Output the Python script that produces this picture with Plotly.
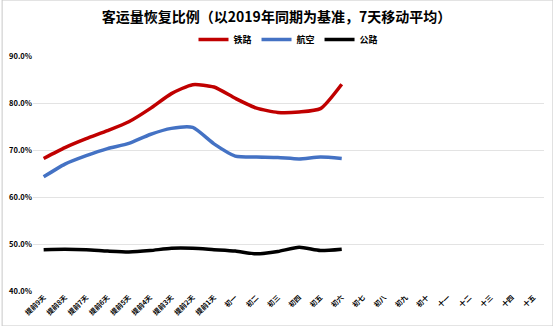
import plotly.graph_objects as go

categories = ["提前9天","提前8天","提前7天","提前6天","提前5天","提前4天","提前3天","提前2天","提前1天",
              "初一","初二","初三","初四","初五","初六","初七","初八","初九","初十",
              "十一","十二","十三","十四","十五"]
rail = [68.2, 70.5, 72.4, 74.1, 76.0, 78.8, 82.0, 83.9, 83.4, 81.0, 78.9, 78.0, 78.1, 78.8, 84.0]
air = [64.3, 67.0, 68.8, 70.3, 71.4, 73.3, 74.6, 74.8, 71.3, 68.7, 68.5, 68.4, 68.1, 68.5, 68.2]
road = [48.8, 48.9, 48.8, 48.5, 48.3, 48.6, 49.1, 49.1, 48.8, 48.5, 47.9, 48.4, 49.3, 48.6, 48.9]

series = [("铁路", rail, "#C00000"), ("航空", air, "#4472C4"), ("公路", road, "#000000")]

font = "Noto Sans CJK SC"
fig = go.Figure()
for name, vals, color in series:
    fig.add_trace(go.Scatter(
        x=categories[:len(vals)], y=[v / 100 for v in vals], name=name, mode="lines",
        line=dict(color=color, width=3.5, shape="spline", smoothing=0.6)))

fig.update_layout(
    width=553, height=326, margin=dict(l=31, r=9, t=56, b=35),
    paper_bgcolor="white", plot_bgcolor="white",
    title=dict(text="<b>客运量恢复比例（以2019年同期为基准，7天移动平均）</b>",
               x=0.5, xanchor="center", y=0.948, yanchor="middle",
               font=dict(family=font, size=14, color="#000000")),
    legend=dict(orientation="h", x=0.5, xanchor="center", y=1.07, yanchor="middle",
                font=dict(family=font, size=9, color="#000000", weight="bold"),
                itemwidth=30, tracegroupgap=0, bgcolor="rgba(0,0,0,0)"),
    font=dict(family=font, color="#000000"),
    xaxis=dict(type="category", categoryorder="array", categoryarray=categories,
               range=[-0.5, len(categories) - 0.5], tickangle=-45,
               tickfont=dict(family=font, size=7, color="#000000", weight="bold"),
               showgrid=False, showline=False, ticks="", zeroline=False),
    yaxis=dict(range=[0.4, 0.9], dtick=0.1, tickformat=".1%",
               tickfont=dict(family=font, size=7.5, color="#000000", weight="bold"),
               showgrid=True, gridcolor="#E3E3E3", gridwidth=1, zeroline=False,
               showline=False, ticks=""),
)
# full-image border
fig.add_shape(type="rect", xref="paper", yref="paper", x0=-31/513, x1=1+9/513,
              y0=-35/235, y1=1+56/235, line=dict(color="#C8C8C8", width=1))
fig.write_html("out.html")
